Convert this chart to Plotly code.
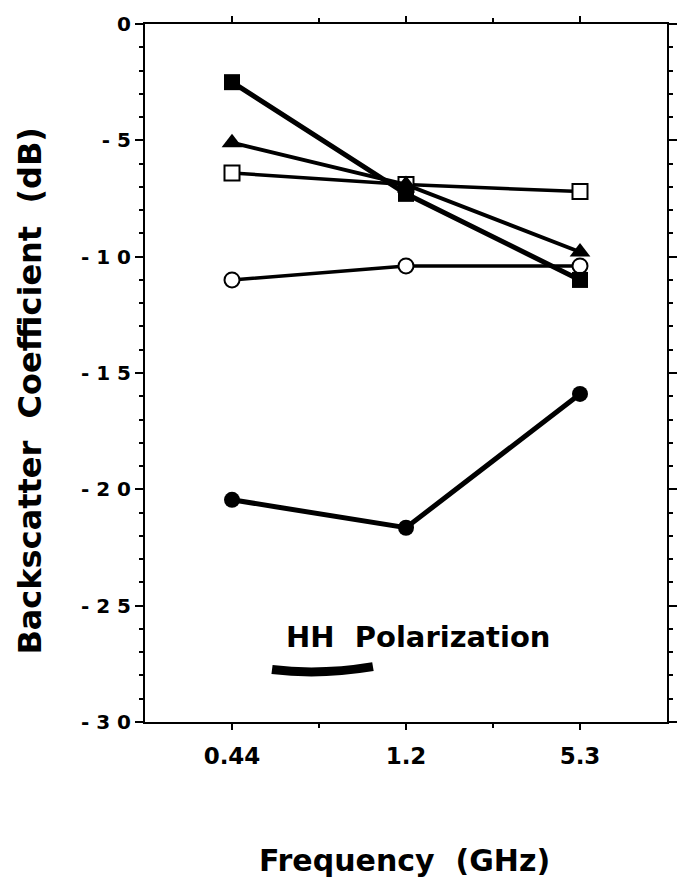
import plotly.graph_objects as go

freq_labels = ["0.44", "1.2", "5.3"]
freq_pos = [0, 1, 2]

filled_square = [-2.5, -7.3, -11.0]
filled_triangle = [-5.1, -6.9, -9.8]
open_square = [-6.4, -6.9, -7.2]
open_circle = [-11.0, -10.4, -10.4]
filled_circle = [-20.45, -21.65, -15.9]

y_tickvals = [0, -5, -10, -15, -20, -25, -30]
y_ticktext = ["0", "- 5", "- 1 0", "- 1 5", "- 2 0", "- 2 5", "- 3 0"]

FONT = "DejaVu Sans"

series = [
    (open_circle, "circle-open", 3.5, 15),
    (filled_circle, "circle", 5, 16),
    (open_square, "square-open", 3.5, 15),
    (filled_triangle, "triangle-up", 4, 18),
    (filled_square, "square", 5, 16),
]

fig = go.Figure()
for vals, sym, lw, ms in series:
    if sym.endswith("-open"):
        marker = dict(symbol=sym.replace("-open", ""), size=ms, color="white",
                      line=dict(color="black", width=2))
    else:
        marker = dict(symbol=sym, size=ms, color="black", line=dict(color="black", width=0))
    fig.add_trace(go.Scatter(x=freq_pos, y=vals, mode="lines+markers",
                             line=dict(color="black", width=lw),
                             marker=marker, showlegend=False))

fig.update_layout(
    width=689, height=884,
    margin=dict(l=145, r=12, t=17, b=162),
    plot_bgcolor="white", paper_bgcolor="white",
    font=dict(family=FONT, color="black"),
)

fig.update_xaxes(
    range=[-0.5, 2.5], tickmode="array", tickvals=freq_pos, ticktext=freq_labels,
    showline=True, linecolor="black", linewidth=2, mirror="allticks",
    ticks="outside", ticklen=6, tickwidth=1.5, tickcolor="black",
    tickfont=dict(family=FONT, size=23, color="black", weight="bold"),
    ticklabelstandoff=6,
    showgrid=False, zeroline=False,
    minor=dict(tickvals=[0.5, 1.5], ticks="outside", ticklen=4, tickwidth=1.5, tickcolor="black"),
)
fig.update_yaxes(
    range=[-30, 0], tickmode="array", tickvals=y_tickvals, ticktext=y_ticktext,
    showline=True, linecolor="black", linewidth=2, mirror="allticks",
    ticks="outside", ticklen=8, tickwidth=1.5, tickcolor="black",
    tickfont=dict(family=FONT, size=20, color="black", weight="bold"),
    showgrid=False, zeroline=False,
    minor=dict(dtick=1, ticks="outside", ticklen=4, tickwidth=1.5, tickcolor="black"),
)

# axis titles
fig.add_annotation(text="<b>Backscatter  Coefficient  (dB)</b>", xref="paper", yref="paper",
                   x=-0.22, y=0.475, xanchor="center", yanchor="middle", textangle=-90,
                   showarrow=False, font=dict(family=FONT, size=32, color="black"))
fig.add_annotation(text="<b>Frequency  (GHz)</b>", xref="paper", yref="paper",
                   x=0.498, y=-0.199, xanchor="center", yanchor="middle",
                   showarrow=False, font=dict(family=FONT, size=30, color="black"))

# in-plot label with hand-drawn underline
fig.add_annotation(text="<b>HH  Polarization</b>", xref="x", yref="y",
                   x=0.30, y=-26.33, xanchor="left", yanchor="middle",
                   showarrow=False, font=dict(family=FONT, size=29, color="black"))
fig.add_shape(type="path", xref="x", yref="y",
              path="M 0.23,-27.74 Q 0.50,-28.0 0.81,-27.62",
              line=dict(color="black", width=9))

fig.write_html("out.html")
